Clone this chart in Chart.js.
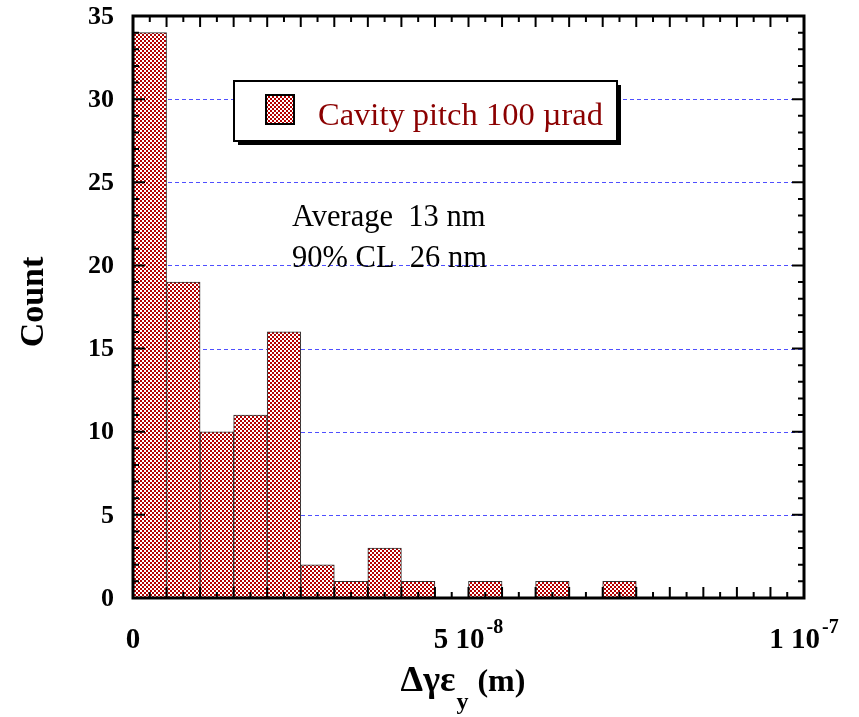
<!DOCTYPE html>
<html>
<head>
<meta charset="utf-8">
<script src="https://cdn.jsdelivr.net/npm/chart.js@4.4.1/dist/chart.umd.min.js"></script>
<style>
  html, body { margin: 0; padding: 0; background: #fff; }
  #wrap { width: 859px; height: 717px; }
</style>
</head>
<body>
<div id="wrap"><canvas id="hist" width="859" height="717"></canvas></div>
<script>
// Datos del histograma (centro de cada bin, en metros) y cuentas
const binCenters = [2.5e-9, 7.5e-9, 1.25e-8, 1.75e-8, 2.25e-8, 2.75e-8, 3.25e-8, 3.75e-8,
                    4.25e-8, 4.75e-8, 5.25e-8, 5.75e-8, 6.25e-8, 6.75e-8, 7.25e-8];
const counts     = [34, 19, 10, 11, 16, 2, 1, 3, 1, 0, 1, 0, 1, 0, 1];

const yTicks     = [0, 5, 10, 15, 20, 25, 30, 35];
const yGridLines = [5, 10, 15, 20, 25, 30];
const xTickLabels = [
  { value: 0,    mant: '0',    exp: '' },
  { value: 5e-8, mant: '5 10', exp: '-8' },
  { value: 1e-7, mant: '1 10', exp: '-7' }
];
const legendLabel = 'Cavity pitch 100 \u00b5rad';
const noteLines   = ['Average  13 nm', '90% CL  26 nm'];

const SERIF = '"Liberation Serif", "Times New Roman", serif';
const darkRed = '#8b0000';

// Trama cuadriculada roja/blanca
function makeHatch() {
  const c = document.createElement('canvas');
  c.width = 4; c.height = 4;
  const g = c.getContext('2d');
  g.fillStyle = '#fff';
  g.fillRect(0, 0, 4, 4);
  g.fillStyle = '#b40000';
  g.fillRect(0, 0, 2, 2);
  g.fillRect(2, 2, 2, 2);
  return g.createPattern(c, 'repeat');
}

const ctx = document.getElementById('hist').getContext('2d');
const hatch = makeHatch();

const gridPlugin = {
  id: 'dashedGrid',
  beforeDatasetsDraw(chart) {
    const { ctx, chartArea: a, scales: { y } } = chart;
    ctx.save();
    ctx.strokeStyle = '#4f4fff';
    ctx.lineWidth = 1;
    ctx.setLineDash([4, 3]);
    yGridLines.forEach(v => {
      const py = Math.round(y.getPixelForValue(v)) + 0.5;
      ctx.beginPath();
      ctx.moveTo(a.left, py);
      ctx.lineTo(a.right, py);
      ctx.stroke();
    });
    ctx.restore();
  }
};

const framePlugin = {
  id: 'frameAndText',
  afterDraw(chart) {
    const { ctx, chartArea: a, scales: { x, y } } = chart;
    ctx.save();
    ctx.strokeStyle = '#000';
    ctx.fillStyle = '#000';

    // ticks hacia adentro
    ctx.lineWidth = 2;
    for (let v = 0; v <= 35; v++) {
      const py = y.getPixelForValue(v);
      const len = (v % 5 === 0) ? 12 : 6;
      ctx.beginPath();
      ctx.moveTo(a.left, py); ctx.lineTo(a.left + len, py);
      ctx.moveTo(a.right, py); ctx.lineTo(a.right - len, py);
      ctx.stroke();
    }
    for (let i = 0; i <= 40; i++) {
      const px = x.getPixelForValue(i * 2.5e-9);
      const len = (i % 2 === 0) ? 11 : 6;
      ctx.beginPath();
      ctx.moveTo(px, a.top); ctx.lineTo(px, a.top + len);
      ctx.moveTo(px, a.bottom); ctx.lineTo(px, a.bottom - len);
      ctx.stroke();
    }

    // marco
    ctx.lineWidth = 3;
    ctx.strokeRect(a.left, a.top, a.right - a.left, a.bottom - a.top);

    // etiquetas eje Y
    ctx.font = 'bold 26px ' + SERIF;
    ctx.textAlign = 'right';
    ctx.textBaseline = 'middle';
    yTicks.forEach(v => ctx.fillText(String(v), 114, y.getPixelForValue(v) + 1));

    // etiquetas eje X con exponente
    ctx.textBaseline = 'alphabetic';
    ctx.textAlign = 'left';
    xTickLabels.forEach(t => {
      ctx.font = 'bold 29px ' + SERIF;
      const wm = ctx.measureText(t.mant).width;
      ctx.font = 'bold 20px ' + SERIF;
      const we = t.exp ? ctx.measureText(t.exp).width + 2 : 0;
      const x0 = x.getPixelForValue(t.value) - (wm + we) / 2;
      ctx.font = 'bold 29px ' + SERIF;
      ctx.fillText(t.mant, x0, 648);
      if (t.exp) {
        ctx.font = 'bold 20px ' + SERIF;
        ctx.fillText(t.exp, x0 + wm + 2, 633);
      }
    });

    // título eje Y
    ctx.save();
    ctx.translate(43, 302);
    ctx.rotate(-Math.PI / 2);
    ctx.textAlign = 'center';
    ctx.font = 'bold 34px ' + SERIF;
    ctx.fillText('Count', 0, 0);
    ctx.restore();

    // título eje X: Δγε_y (m)
    ctx.textAlign = 'left';
    const p1 = '\u0394\u03b3\u03b5', p3 = ' (m)';
    ctx.font = 'bold 36px ' + SERIF;
    const w1 = ctx.measureText(p1).width;
    ctx.font = 'bold 32px ' + SERIF;
    const w3 = ctx.measureText(p3).width;
    ctx.font = 'bold 24px ' + SERIF;
    const w2 = ctx.measureText('y').width;
    let tx = 463 - (w1 + w2 + w3 + 2) / 2;
    ctx.font = 'bold 36px ' + SERIF;
    ctx.fillText(p1, tx, 691);
    ctx.font = 'bold 24px ' + SERIF;
    ctx.fillText('y', tx + w1 + 1, 709);
    ctx.font = 'bold 32px ' + SERIF;
    ctx.fillText(p3, tx + w1 + w2 + 2, 691);

    // leyenda con sombra
    const lx = 234, ly = 81, lw = 383, lh = 60;
    ctx.fillStyle = '#000';
    ctx.fillRect(lx + 4, ly + 4, lw, lh);
    ctx.fillStyle = '#fff';
    ctx.fillRect(lx, ly, lw, lh);
    ctx.lineWidth = 2;
    ctx.strokeRect(lx, ly, lw, lh);
    ctx.fillStyle = hatch;
    ctx.fillRect(266, 95, 28, 29);
    ctx.strokeRect(266, 95, 28, 29);
    ctx.fillStyle = darkRed;
    ctx.font = '32.5px ' + SERIF;
    ctx.fillText(legendLabel, 318, 125);

    // notas
    ctx.fillStyle = '#000';
    ctx.font = '30.5px ' + SERIF;
    ctx.fillText(noteLines[0], 292, 226);
    ctx.fillText(noteLines[1], 292, 267);

    ctx.restore();
  }
};

new Chart(ctx, {
  type: 'bar',
  data: {
    datasets: [{
      data: binCenters.map((c, i) => ({ x: c, y: counts[i] })),
      backgroundColor: hatch,
      borderColor: '#333',
      borderWidth: 1,
      barPercentage: 1,
      categoryPercentage: 1
    }]
  },
  options: {
    responsive: false,
    animation: false,
    layout: { padding: { left: 133, top: 16, right: 55, bottom: 119 } },
    plugins: { legend: { display: false }, tooltip: { enabled: false } },
    scales: {
      x: { type: 'linear', min: 0, max: 1e-7, offset: false, display: false },
      y: { min: 0, max: 35, display: false }
    }
  },
  plugins: [gridPlugin, framePlugin]
});
</script>
</body>
</html>
